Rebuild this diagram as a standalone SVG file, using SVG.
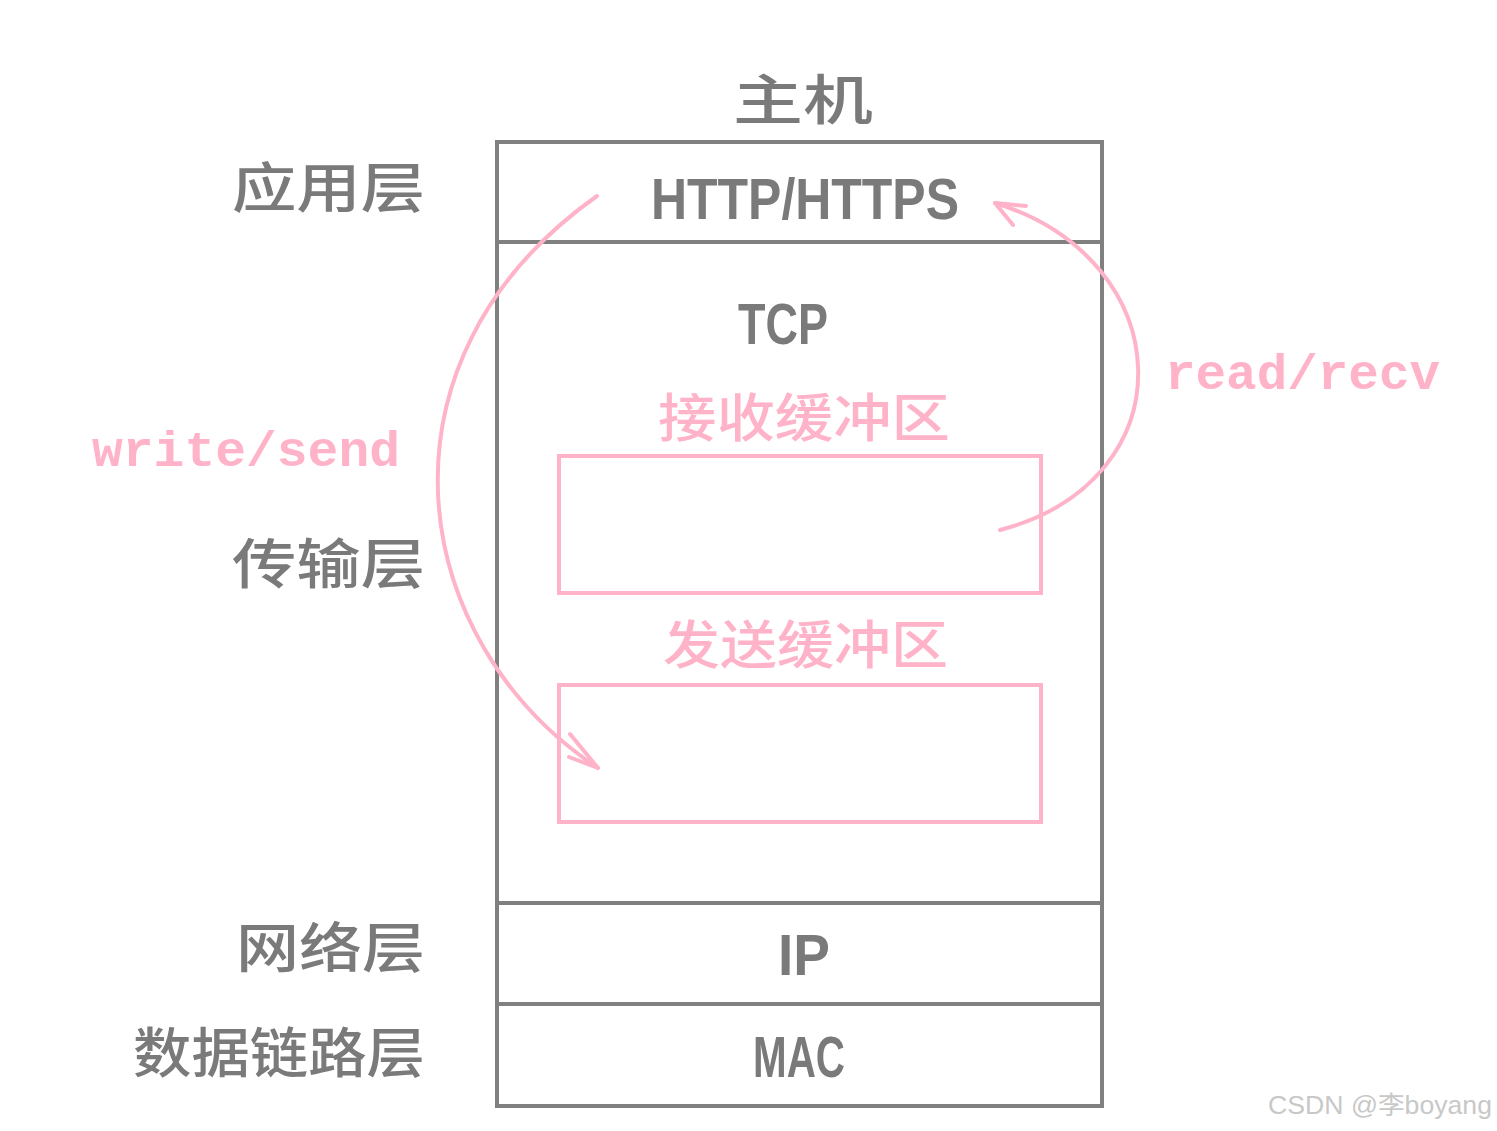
<svg xmlns="http://www.w3.org/2000/svg" width="1497" height="1131" viewBox="0 0 1497 1131">
<style>
.box{fill:none;stroke:#808080;stroke-width:4}
.pbox{fill:none;stroke:#ffb3c8;stroke-width:4}
.cn{font-family:"Noto Sans CJK SC","Noto Sans",sans-serif;fill:#7a7a7a;font-size:54px;font-weight:500}
.cnp{font-family:"Noto Sans CJK SC","Noto Sans",sans-serif;fill:#ffb3c8;font-size:52px;font-weight:500}
.en{font-family:"Liberation Sans",Arial,sans-serif;fill:#7a7a7a;font-size:58px;text-anchor:middle;font-weight:bold}
.mono{font-family:"Liberation Mono","DejaVu Sans Mono",monospace;font-weight:bold;fill:#ffb3c8;font-size:50px}
.arc{fill:none;stroke:#ffb3c8;stroke-width:4;stroke-linecap:round;stroke-linejoin:round}
</style>
<rect width="1497" height="1131" fill="#ffffff"/>
<text class="cn" x="733" y="120" font-size="62" textLength="140" lengthAdjust="spacingAndGlyphs">主机</text>
<g id="stack">
<rect class="box" x="497" y="142" width="605" height="964"/>
<line class="box" x1="497" y1="242" x2="1102" y2="242"/>
<line class="box" x1="497" y1="903" x2="1102" y2="903"/>
<line class="box" x1="497" y1="1004" x2="1102" y2="1004"/>
</g>
<g id="app">
<text class="cn" x="232" y="208" textLength="193" lengthAdjust="spacingAndGlyphs">应用层</text>
<text class="en" x="805" y="219" textLength="308" lengthAdjust="spacingAndGlyphs">HTTP/HTTPS</text>
</g>
<g id="transport">
<text class="cn" x="232" y="584" textLength="193" lengthAdjust="spacingAndGlyphs">传输层</text>
<text class="en" x="783" y="344" textLength="90" lengthAdjust="spacingAndGlyphs">TCP</text>
</g>
<g id="recvbuf">
<text class="cnp" x="658" y="437" textLength="292" lengthAdjust="spacingAndGlyphs">接收缓冲区</text>
<rect class="pbox" x="559" y="456" width="482" height="137"/>
</g>
<g id="sendbuf">
<text class="cnp" x="663" y="664" textLength="285" lengthAdjust="spacingAndGlyphs">发送缓冲区</text>
<rect class="pbox" x="559" y="685" width="482" height="137"/>
</g>
<g id="network">
<text class="cn" x="236" y="968" textLength="189" lengthAdjust="spacingAndGlyphs">网络层</text>
<text class="en" x="804" y="975" textLength="52" lengthAdjust="spacingAndGlyphs">IP</text>
</g>
<g id="link">
<text class="cn" x="133" y="1073" textLength="292" lengthAdjust="spacingAndGlyphs">数据链路层</text>
<text class="en" x="799" y="1077" textLength="92" lengthAdjust="spacingAndGlyphs">MAC</text>
</g>
<g id="connectors">
<path class="arc" d="M597,196 C365,360 405,640 598,768"/>
<path class="arc" d="M570,734 L598,768 L569,757"/>
<path class="arc" d="M1000,530 C1190,480 1180,260 995,203"/>
<path class="arc" d="M1026,206 L995,203 L1013,225"/>
<text class="mono" x="92" y="466" textLength="308" lengthAdjust="spacingAndGlyphs">write/send</text>
<text class="mono" x="1165" y="389" textLength="275" lengthAdjust="spacingAndGlyphs">read/recv</text>
</g>
<text x="1268" y="1114" font-family="Liberation Sans,Arial,'Noto Sans CJK SC',sans-serif" font-size="25" fill="#c8c8c8" textLength="224" lengthAdjust="spacingAndGlyphs">CSDN @李boyang</text>
</svg>
